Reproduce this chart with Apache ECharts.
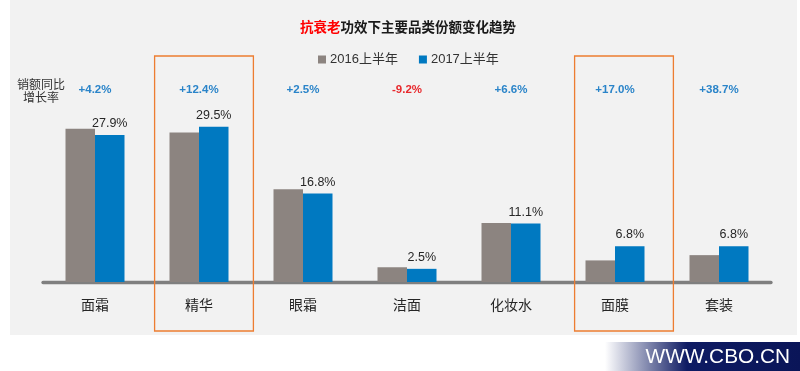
<!DOCTYPE html>
<html>
<head>
<meta charset="utf-8">
<script src="https://cdn.jsdelivr.net/npm/echarts@6/dist/echarts.min.js"></script>
<style>
html,body{margin:0;padding:0;background:#fff;}
#c{width:800px;height:371px;}
</style>
</head>
<body>
<div id="c"></div>
<script>
const categories = ['面霜','精华','眼霜','洁面','化妆水','面膜','套装'];
const share2016 = [29.1, 28.4, 17.6, 2.8, 11.2, 4.1, 5.1];
const share2017 = [27.9, 29.5, 16.8, 2.5, 11.1, 6.8, 6.8];
const growthLabels = ['+4.2%','+12.4%','+2.5%','-9.2%','+6.6%','+17.0%','+38.7%'];
const seriesNames = ['2016上半年','2017上半年'];
const highlighted = ['精华','面膜'];

const FONT = '"Liberation Sans", Arial, "Noto Sans CJK SC", sans-serif';
const chart = echarts.init(document.getElementById('c'), null, {renderer:'canvas'});

const option = {
  backgroundColor: '#ffffff',
  animation: false,
  textStyle: {fontFamily: FONT},
  title: {
    text: '{r|抗衰老}{b|功效下主要品类份额变化趋势}',
    left: 295, top: 15,
    textStyle: {
      rich: {
        r: {color: '#ff0000', fontSize: 13.5, fontWeight: 'bold', fontFamily: '"Noto Sans CJK SC", sans-serif'},
        b: {color: '#1a1a1a', fontSize: 13.5, fontWeight: 'bold', fontFamily: '"Noto Sans CJK SC", sans-serif'}
      }
    }
  },
  legend: {
    data: seriesNames,
    left: 313, top: 48,
    icon: 'rect', itemWidth: 8, itemHeight: 8, itemGap: 21,
    textStyle: {fontSize: 13, color: '#333333', fontFamily: FONT, padding: [0,0,0,-1]}
  },
  grid: {left: 43, right: 29, top: 124, bottom: 89, containLabel: false},
  xAxis: [
    {
      type: 'category', data: categories, position: 'bottom',
      axisLine: {show: true, lineStyle: {color: '#7f7f7f', width: 3.3}},
      axisTick: {show: false},
      axisLabel: {fontSize: 14, color: '#262626', margin: 16, fontFamily: '"Noto Sans CJK SC", sans-serif'}
    },
    {
      type: 'category', data: growthLabels, position: 'top',
      axisLine: {show: false}, axisTick: {show: false},
      axisLabel: {
        margin: 28,
        formatter: function (v) { return v.charAt(0) === '-' ? '{n|' + v + '}' : '{p|' + v + '}'; },
        rich: {
          p: {color: '#2a84c9', fontSize: 11.5, fontWeight: 'bold', fontFamily: FONT},
          n: {color: '#e8282c', fontSize: 11.5, fontWeight: 'bold', fontFamily: FONT}
        }
      }
    }
  ],
  yAxis: {type: 'value', min: 0, max: 30, show: false, splitLine: {show: false}},
  series: [
    {
      name: seriesNames[0], type: 'bar', data: share2016, xAxisIndex: 0,
      barWidth: 29.5, barGap: '0%',
      itemStyle: {color: '#8c8480'}
    },
    {
      name: seriesNames[1], type: 'bar', data: share2017, xAxisIndex: 0,
      barWidth: 29.5, barGap: '0%',
      itemStyle: {color: '#0079c1'},
      label: {
        show: true, position: 'top', distance: 5,
        formatter: function (p) { return p.value.toFixed(1) + '%'; },
        fontSize: 12.5, color: '#262626', fontFamily: FONT
      }
    }
  ]
};
chart.setOption(option);

// decorations computed from the axis scale
const graphics = [
  {type: 'rect', z: -100, silent: true, shape: {x: 10, y: 0, width: 787, height: 335}, style: {fill: '#f2f2f2'}},
  {type: 'rect', z: -100, silent: true, shape: {x: 605, y: 342, width: 195, height: 29},
    style: {fill: new echarts.graphic.LinearGradient(0, 0, 1, 0, [
      {offset: 0, color: '#ffffff'},
      {offset: 0.42, color: '#0e1b63'},
      {offset: 1, color: '#0a1558'}
    ])}},
  {type: 'text', silent: true, style: {text: 'WWW.CBO.CN', x: 790, y: 357, align: 'right', verticalAlign: 'middle',
    fill: '#ffffff', font: '20.8px "Liberation Sans", Arial, sans-serif'}},
  {type: 'text', silent: true, style: {text: '销额同比\n增长率', x: 41, y: 91, align: 'center', verticalAlign: 'middle',
    fill: '#333333', font: '12px "Noto Sans CJK SC", sans-serif', lineHeight: 13.5}}
];
const p0 = chart.convertToPixel({xAxisIndex: 0}, categories[0]);
const p1 = chart.convertToPixel({xAxisIndex: 0}, categories[1]);
const band = p1 - p0;
const boxShift = [5, 9];
highlighted.forEach(function (c, i) {
  const cx = chart.convertToPixel({xAxisIndex: 0}, c);
  const w = band * 0.95;
  graphics.push({type: 'rect', silent: true, z: 100,
    shape: {x: cx + boxShift[i] - w / 2, y: 56, width: w, height: 275},
    style: {fill: 'none', stroke: '#ed7d31', lineWidth: 1.3}});
});
chart.setOption({graphic: graphics});
</script>
</body>
</html>
